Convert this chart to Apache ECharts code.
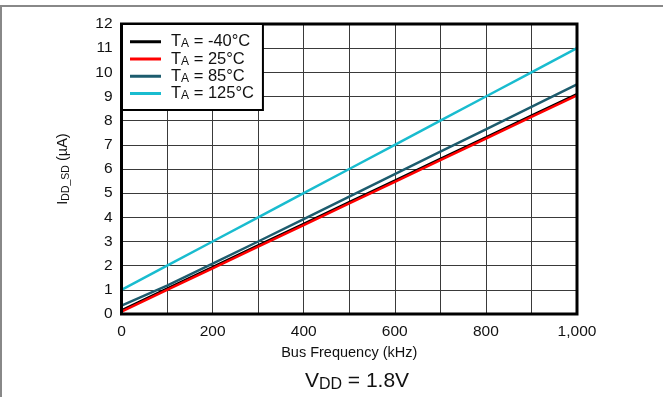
<!DOCTYPE html>
<html><head><meta charset="utf-8">
<script src="https://cdn.jsdelivr.net/npm/echarts@6/dist/echarts.min.js"></script>
<style>html,body{margin:0;padding:0;background:#fff}#c{width:663px;height:397px}</style>
</head><body><div id="c"></div>
<script>
const freq = [0,100,200,300,400,500,600,700,800,900,1000];
const seriesNames = ['-40°C','25°C','85°C','125°C'];
const tm40 = [0.15,1.05,1.94,2.84,3.73,4.63,5.52,6.42,7.31,8.21,9.10];
const t25  = [0.10,1.00,1.89,2.79,3.68,4.58,5.47,6.37,7.26,8.16,9.05];
const t85  = [0.35,1.17,2.08,3.00,3.93,4.86,5.79,6.72,7.64,8.57,9.50];
const t125 = [1.00,2.00,3.00,4.00,5.00,6.00,7.00,8.00,9.00,10.00,11.00];
const colors = ['#000000','#ff0000','#1d5c6e','#19bccf'];
const values = [tm40,t25,t85,t125];

const chart = echarts.init(document.getElementById('c'));
const font = 'Liberation Sans, Arial, sans-serif';
chart.setOption({
  animation:false,
  textStyle:{fontFamily:font},
  grid:{left:121.5,right:86,top:24,bottom:83,show:true,borderColor:'#000',borderWidth:3,backgroundColor:'transparent',z:5},
  xAxis:{type:'value',min:0,max:1000,interval:100,
    name:'Bus Frequency (kHz)',nameLocation:'middle',nameGap:31,
    nameTextStyle:{fontSize:14.5,color:'#111',fontFamily:font},
    axisLine:{show:false},axisTick:{show:false},
    axisLabel:{fontSize:15.5,color:'#111',margin:10,fontFamily:font,
      formatter:v=> v%200===0 ? (v>=1000? '1,000': String(v)) : ''},
    splitLine:{show:true,lineStyle:{color:'#3a3a3a',width:1}}},
  yAxis:{type:'value',min:0,max:12,interval:1,
    name:'{a|I}{b|DD_SD}{a| (µA)}',nameLocation:'middle',nameGap:50,nameRotate:90,
    nameTextStyle:{rich:{a:{fontSize:14.5,color:'#111',fontFamily:font,lineHeight:18,verticalAlign:'middle'},
      b:{fontSize:10.5,color:'#111',fontFamily:font,lineHeight:18,verticalAlign:'bottom',padding:[8,0,0,0]}}},
    axisLine:{show:false},axisTick:{show:false},
    axisLabel:{fontSize:15.5,color:'#111',margin:9,fontFamily:font},
    splitLine:{show:true,lineStyle:{color:'#3a3a3a',width:1}}},
  legend:{orient:'vertical',left:122,top:24,padding:[9,9,8,8],itemGap:0,itemWidth:31,itemHeight:3,
    icon:'rect',backgroundColor:'#fff',borderColor:'#000',borderWidth:2,z:10,
    data:seriesNames.map((n,i)=>({name:n,itemStyle:{color:colors[i]}})),
    formatter:n=>'{t|T}{s|A}{t| = '+n+'}',
    textStyle:{padding:[0,0,0,5],rich:{t:{fontSize:16.5,color:'#111',fontFamily:font,lineHeight:16.5},
      s:{fontSize:12,color:'#111',fontFamily:font,lineHeight:16.5,verticalAlign:'bottom',padding:[5,0,0,0]}}}},
  graphic:[
    {type:'line',shape:{x1:0,y1:6,x2:663,y2:6},style:{stroke:'#888',lineWidth:2}},
    {type:'line',shape:{x1:1,y1:6,x2:1,y2:397},style:{stroke:'#888',lineWidth:2}},
    {type:'text',x:357,y:381,style:{rich:{m:{fontSize:21,fill:'#111',fontFamily:font,lineHeight:24},
      s:{fontSize:16,fill:'#111',fontFamily:font,lineHeight:24,verticalAlign:'bottom',padding:[9,0,0,0]}},
      text:'{m|V}{s|DD}{m| = 1.8V}',align:'center',verticalAlign:'middle'}}
  ],
  series:values.map((v,i)=>({name:seriesNames[i],type:'line',showSymbol:false,symbol:'none',z:3,
    data:freq.map((f,j)=>[f,v[j]]),lineStyle:{color:colors[i],width:2.5},itemStyle:{color:colors[i]}}))
});
</script></body></html>
